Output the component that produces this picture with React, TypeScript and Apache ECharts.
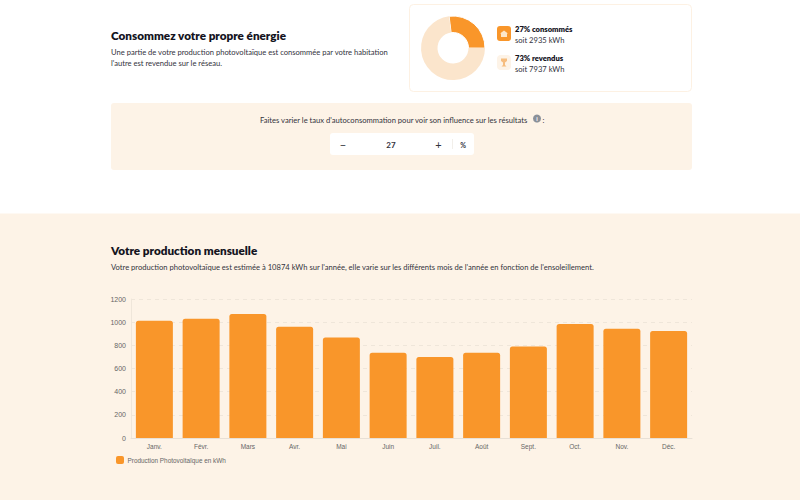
import React, { useEffect, useRef } from "react";
import * as echarts from "echarts";

const months = ["Janv.", "Févr.", "Mars", "Avr.", "Mai", "Juin", "Juil.", "Août", "Sept.", "Oct.", "Nov.", "Déc."];
const production = [1013, 1030, 1071, 961, 868, 735, 700, 735, 789, 985, 944, 924];
const shareNames = ["consommés", "revendus"];
const shareValues = [27, 73];
const yTicks = { min: 0, max: 1200, interval: 200 };

const ORANGE = "#f9962a";
const CREAM = "#fdf3e7";
const PALE = "#fbe5cc";
const INK = "#14141e";
const BODY = "#33333d";
const UI = "Lato, 'Noto Sans', sans-serif";

function t(x: number, y: number, text: string, size: number, weight: any = 400, fill = BODY, align: any = "left") {
  return {
    type: "text", x, y, silent: true,
    style: { text, fontSize: size, fontWeight: weight, fill, fontFamily: UI, align, verticalAlign: "middle" },
  };
}
function box(x: number, y: number, w: number, h: number, r: number, fill: string, stroke?: string, z = 0) {
  return {
    type: "rect", x, y, z, silent: true, shape: { x: 0, y: 0, width: w, height: h, r },
    style: { fill, stroke: stroke || undefined, lineWidth: stroke ? 1 : 0 },
  };
}

export default function App() {
  const ref = useRef<HTMLDivElement>(null);
  useEffect(() => {
    document.body.style.margin = "0";
    const chart = echarts.init(ref.current!, undefined, { renderer: "svg" });
    chart.setOption({
      animation: false,
      backgroundColor: "#ffffff",
      grid: { left: 131, right: 108, top: 299, bottom: 62 },
      legend: {
        left: 111, top: 451, icon: "roundRect", itemWidth: 8, itemHeight: 8, itemGap: 5,
        data: ["Production Photovoltaïque en kWh"],
        textStyle: { fontSize: 6.4, color: "#666666", fontFamily: "'Liberation Sans', sans-serif", padding: [0, 0, 0, -1.5] },
      },
      xAxis: {
        type: "category", data: months,
        axisTick: { show: false },
        axisLine: { lineStyle: { color: "#e8e0d6" } },
        axisLabel: { fontSize: 6.5, color: "#666666", margin: 5, fontFamily: "'Liberation Sans', sans-serif" },
      },
      yAxis: {
        type: "value", ...yTicks,
        axisLine: { show: true, lineStyle: { color: "#efe6da" } },
        axisTick: { show: false },
        axisLabel: { fontSize: 7, color: "#666666", margin: 5, fontFamily: "'Liberation Sans', sans-serif", formatter: (v: number) => String(v) },
        splitLine: { lineStyle: { color: "#efe6da", type: [4, 4] } },
      },
      series: [
        {
          type: "bar", name: "Production Photovoltaïque en kWh", data: production, z: 5,
          barWidth: 37, itemStyle: { color: ORANGE, borderRadius: [2.5, 2.5, 0, 0] },
        },
        {
          type: "pie", center: [453, 48], radius: [15.5, 32], startAngle: 97, clockwise: true,
          label: { show: false }, labelLine: { show: false }, silent: true, z: 5,
          data: [
            { name: shareNames[0], value: shareValues[0], itemStyle: { color: ORANGE, borderColor: "#ffffff", borderWidth: 1 } },
            { name: shareNames[1], value: shareValues[1], itemStyle: { color: PALE } },
          ],
        },
      ],
      graphic: [
        box(0, 213.5, 800, 287, 0, CREAM, undefined, -10),
        box(111, 103, 581, 67, 3, CREAM, undefined, -10),
        box(409.5, 4.5, 282, 87, 4, "#ffffff", "#fdf1e3", -10),
        t(111, 35, "Consommez votre propre énergie", 11.7, 800, INK),
        t(111, 52, "Une partie de votre production photovoltaïque est consommée par votre habitation", 7.6, 400),
        t(111, 63, "l'autre est revendue sur le réseau.", 7.6, 400),
        box(497, 26, 14, 15, 3, ORANGE),
        { type: "polygon", silent: true, shape: { points: [[504, 30.5], [508, 33.5], [507, 33.5], [507, 37], [501, 37], [501, 33.5], [500, 33.5]] }, style: { fill: "#fde6c8" } },
        box(497, 55, 14, 15, 4, "#fdf3e7"),
        { type: "polygon", silent: true, shape: { points: [[501, 58.5], [507, 58.5], [507, 61], [505, 62.5], [505, 65], [506.5, 66.5], [501.5, 66.5], [503, 65], [503, 62.5], [501, 61]] }, style: { fill: "#f6bd7f" } },
        t(515, 28.5, "27% consommés", 7.6, 800, INK),
        t(515, 39.5, "soit 2935 kWh", 7.6, 400),
        t(515, 57.5, "73% revendus", 7.6, 800, INK),
        t(515, 68.5, "soit 7937 kWh", 7.6, 400),
        t(260, 119.5, "Faites varier le taux d'autoconsommation pour voir son influence sur les résultats", 7.6, 400, BODY),
        { type: "circle", silent: true, shape: { cx: 537, cy: 118.5, r: 4 }, style: { fill: "#8a9099" } },
        t(537, 118.7, "i", 6, 700, "#ffffff", "center"),
        t(542.5, 120, ":", 7.6, 400),
        box(330, 133, 144, 22, 3, "#ffffff"),
        t(343, 144, "−", 11, 400, BODY, "center"),
        t(391, 144.5, "27", 8, 700, BODY, "center"),
        t(438.5, 144, "+", 11, 400, BODY, "center"),
        { type: "line", silent: true, shape: { x1: 452.5, y1: 139, x2: 452.5, y2: 149 }, style: { stroke: "#f2efea", lineWidth: 1 } },
        t(463, 144.5, "%", 7, 700, BODY, "center"),
        t(111, 250, "Votre production mensuelle", 11.7, 800, INK),
        t(111, 267, "Votre production photovoltaïque est estimée à 10874 kWh sur l'année, elle varie sur les différents mois de l'année en fonction de l'ensoleillement.", 7.6, 400),
      ],
    });
    return () => chart.dispose();
  }, []);
  return <div ref={ref} style={{ width: 800, height: 500 }} />;
}
